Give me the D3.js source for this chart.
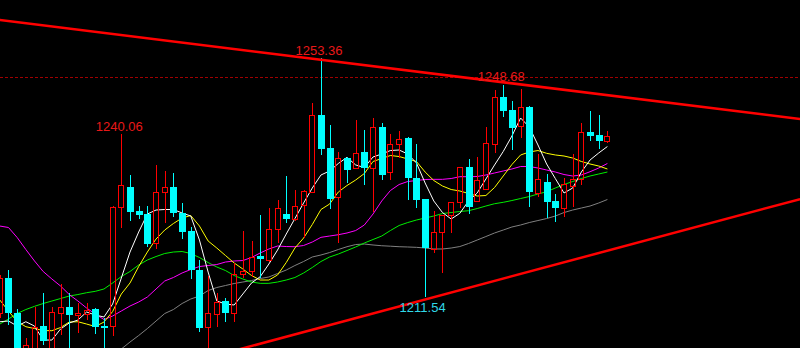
<!DOCTYPE html>
<html>
<head>
<meta charset="utf-8">
<script src="https://d3js.org/d3.v7.min.js"></script>
<style>
html, body { margin: 0; padding: 0; background: #000; overflow: hidden; }
svg { display: block; background: #000; }
</style>
</head>
<body>
<svg id="chart" width="800" height="348"></svg>
<script>
// daily candles
var opens = [1208.74,1214.86,1208.79,1199.64,1201.91,1206.46,1201.91,1208.74,1209.79,1208.39,
	1208.56,1209.44,1206.46,1206.46,1227.29,1230.79,1226.59,1226.06,1220.99,1229.91,
	1230.79,1226.32,1223.09,1216.35,1206.23,1208.51,1210.84,1208.68,1215.56,1216.17,
	1218.71,1218.01,1223.38,1226.06,1225.24,1227.58,1229.96,1243.39,1237.61,1229.09,
	1235.91,1234.06,1236.91,1234.06,1241.23,1233.36,1238.26,1239.31,1232.41,1228.63,
	1219.94,1222.86,1225.89,1228.11,1234.23,1228.34,1230.38,1238.31,1246.48,1244.26,
	1241.46,1244.73,1229.79,1231.61,1228.34,1227.06,1230.96,1232.18,1240.41,1239.83,
	1238.89];
var highs = [1215.39,1216.26,1209.43,1204.36,1209.79,1212.24,1209.79,1213.81,1212.24,1210.49,
	1210.49,1209.61,1207.86,1227.46,1240.06,1232.89,1227.46,1227.46,1234.64,1233.59,
	1233.24,1227.99,1223.79,1218.01,1215.21,1212.24,1211.36,1217.49,1223.09,1221.34,
	1225.89,1227.16,1228.51,1232.71,1230.26,1230.26,1245.43,1253.36,1241.64,1236.96,
	1236.04,1242.51,1240.76,1242.81,1242.04,1240.06,1240.59,1239.48,1238.31,1228.69,
	1226.59,1225.89,1228.21,1234.34,1235.63,1236.09,1241.34,1247.76,1248.68,1245.84,
	1247.88,1244.96,1236.56,1233.06,1229.56,1232.31,1236.56,1241.93,1244.09,1243.39,
	1240.59];
var lows = [1207.86,1206.64,1200.51,1198.41,1200.86,1203.13,1201.21,1204.89,1201.91,1205.24,
	1207.51,1205.06,1201.91,1204.71,1223.61,1224.89,1225.19,1220.29,1219.94,1224.49,
	1225.54,1221.77,1214.69,1205.46,1201.39,1206.34,1207.21,1207.21,1214.86,1215.04,
	1214.86,1217.71,1220.99,1224.49,1224.89,1221.81,1229.91,1236.39,1226.99,1221.04,
	1231.43,1233.93,1231.14,1226.46,1232.01,1232.01,1235.81,1228.51,1227.06,1211.54,
	1219.18,1215.79,1222.68,1227.06,1226.06,1228.16,1230.26,1236.79,1243.09,1237.26,
	1239.31,1227.34,1229.09,1225.31,1224.71,1225.59,1227.34,1231.14,1238.89,1237.38,
	1238.54];
var closes = [1214.86,1208.74,1201.91,1203.13,1206.29,1203.84,1208.91,1209.79,1208.39,1208.74,
	1209.26,1206.34,1206.11,1227.29,1231.14,1226.46,1225.97,1220.81,1229.91,1230.79,
	1226.29,1222.96,1216.26,1206.16,1208.74,1210.71,1208.79,1215.56,1216.09,1218.62,
	1218.13,1223.38,1227.11,1225.24,1227.46,1230.09,1243.33,1237.49,1228.74,1235.81,
	1233.76,1236.68,1234.06,1241.23,1232.89,1238.26,1239.13,1232.31,1228.51,1220.06,
	1222.86,1225.89,1228.11,1234.34,1227.34,1232.01,1238.54,1246.48,1244.14,1241.16,
	1244.73,1229.96,1232.13,1228.21,1227.06,1231.31,1232.18,1240.36,1239.76,1238.89,
	1239.71];

// moving averages as drawn on the chart
var ma5 = [1207.21,1207.34,1206.46,1207.21,1206.46,1204.01,1204.01,1205.94,1206.99,1207.51,
	1208.91,1208.39,1208.04,1210.31,1214.86,1219.41,1222.91,1226.06,1226.76,1226.85,
	1226.85,1226.24,1225.71,1221.51,1215.91,1210.84,1210.31,1210.14,1212.06,1213.99,
	1215.09,1217.31,1219.76,1222.56,1225.27,1227.99,1230.61,1232.89,1233.59,1234.90,
	1235.98,1234.64,1234.20,1236.04,1236.56,1237.17,1237.26,1236.56,1234.99,1231.49,
	1228.34,1226.32,1225.19,1226.18,1228.34,1229.74,1232.19,1234.64,1237.00,1239.71,
	1242.86,1241.29,1238.14,1234.81,1232.27,1229.74,1230.61,1233.41,1235.51,1236.74,
	1237.87];
var ma10 = [1211.01,1209.09,1207.25,1206.34,1206.02,1205.67,1205.64,1206.20,1207.16,1207.21,
	1206.81,1206.37,1207.16,1209.00,1212.06,1213.99,1216.87,1219.41,1221.69,1223.26,
	1224.40,1225.36,1225.80,1223.96,1221.34,1220.11,1218.80,1217.49,1216.44,1215.30,
	1214.51,1214.51,1215.39,1217.57,1220.11,1221.86,1224.22,1226.85,1227.81,1229.91,
	1231.05,1232.01,1233.15,1235.25,1235.77,1236.30,1236.12,1235.69,1235.25,1233.41,
	1231.92,1230.96,1230.35,1230.09,1229.65,1229.21,1229.30,1230.70,1232.71,1234.72,
	1236.39,1236.91,1237.17,1236.68,1236.39,1236.21,1235.86,1235.25,1234.81,1234.46,
	1233.94];
var ma20 = [1223.96,1223.70,1221.95,1219.85,1217.84,1216.00,1214.69,1213.46,1211.97,1210.84,
	1209.61,1208.56,1207.60,1208.21,1209.09,1209.96,1210.66,1211.54,1212.94,1214.34,
	1214.95,1215.74,1216.35,1216.87,1217.05,1217.22,1217.66,1217.84,1217.92,1218.45,
	1219.24,1219.94,1220.46,1220.37,1220.34,1220.55,1221.16,1221.98,1222.21,1222.44,
	1222.74,1223.17,1224.14,1226.06,1228.34,1230.17,1231.22,1231.75,1231.92,1232.10,
	1232.13,1232.13,1232.27,1232.59,1232.59,1232.62,1232.89,1233.24,1233.59,1233.94,
	1234.37,1234.37,1234.11,1233.76,1233.41,1232.97,1232.71,1232.89,1233.46,1234.11,
	1234.90];
var ma30 = [1206.81,1207.69,1208.65,1209.35,1209.91,1210.40,1210.84,1211.27,1211.71,1211.97,
	1212.29,1212.53,1212.94,1213.99,1215.12,1216.00,1217.14,1218.01,1218.62,1219.15,
	1219.41,1219.50,1219.15,1218.45,1217.57,1216.79,1216.17,1215.30,1214.69,1214.16,
	1213.93,1213.93,1214.16,1214.51,1214.95,1215.74,1216.70,1217.75,1218.54,1219.06,
	1219.67,1220.29,1220.99,1221.60,1222.21,1223.17,1224.05,1224.57,1225.01,1225.36,
	1225.71,1226.15,1226.32,1226.50,1226.64,1227.02,1227.46,1227.86,1228.11,1228.42,
	1228.77,1229.12,1229.56,1229.96,1230.61,1231.22,1231.75,1232.27,1232.71,1233.06,
	1233.41];
var ma60 = [null,null,null,null,null,null,null,null,null,null,
	null,null,null,1201.21,1202.44,1203.66,1204.80,1206.02,1207.34,1208.65,
	1209.35,1210.40,1211.19,1211.71,1212.67,1213.20,1213.55,1213.90,1214.16,1214.42,
	1214.77,1215.04,1215.65,1216.26,1217.05,1217.75,1218.54,1218.89,1219.32,1219.85,
	1220.34,1220.72,1220.81,1220.64,1220.51,1220.43,1220.34,1220.29,1220.23,1220.11,
	1219.94,1219.94,1220.11,1220.37,1220.90,1221.51,1222.12,1222.74,1223.26,1223.79,
	1224.14,1224.57,1224.92,1225.27,1225.71,1226.32,1226.76,1227.11,1227.46,1227.99,
	1228.60];

// trend lines as [bar index, price]
var trendUpper = [[0, 1260.00], [92.2, 1242.69]];
var trendLower = [[26.5, 1201.95], [92.2, 1228.67]];
var levelPrice = 1250.00;
var markHighs = [14, 37, 58];
var markLows = [49];

var W = 800, H = 348;
var svg = d3.select("#chart");

var x = d3.scaleLinear().domain([0, 70]).range([-0.2, 607.4]);
var y = d3.scaleLinear().domain([1211.54, 1253.36]).range([297, 58]);

var UP = "#ff0000", DOWN = "#00ffff";

svg.append("rect").attr("width", W).attr("height", H).attr("fill", "#000");

// level line
svg.append("line")
	.attr("x1", 0).attr("x2", W)
	.attr("y1", Math.round(y(levelPrice)) + 0.5).attr("y2", Math.round(y(levelPrice)) + 0.5)
	.attr("stroke", "#a00000").attr("stroke-width", 1)
	.attr("stroke-dasharray", "3,2");

// moving averages
var maList = [
	{v: ma60, c: "#808080"},
	{v: ma30, c: "#00ee00"},
	{v: ma20, c: "#ff00ff"},
	{v: ma10, c: "#ffff00"},
	{v: ma5, c: "#ffffff"}
];
var line = d3.line()
	.defined(function (d) { return d != null; })
	.x(function (d, i) { return x(i); })
	.y(function (d) { return y(d); });
maList.forEach(function (m) {
	svg.append("path").attr("d", line(m.v))
		.attr("fill", "none").attr("stroke", m.c).attr("stroke-width", 1);
});

// candles
var bars = opens.map(function (o, i) {
	return {i: i, o: o, h: highs[i], l: lows[i], c: closes[i]};
});
var g = svg.append("g").attr("shape-rendering", "crispEdges");
bars.forEach(function (d) {
	var px = Math.round(x(d.i));
	var up = d.c >= d.o;
	var top = Math.round(y(Math.max(d.o, d.c)));
	var bot = Math.round(y(Math.min(d.o, d.c)));
	var yh = Math.round(y(d.h)), yl = Math.round(y(d.l));
	if (up) {
		if (yh < top) g.append("line").attr("x1", px + 0.5).attr("x2", px + 0.5)
			.attr("y1", yh).attr("y2", top).attr("stroke", UP);
		if (yl > bot) g.append("line").attr("x1", px + 0.5).attr("x2", px + 0.5)
			.attr("y1", bot).attr("y2", yl).attr("stroke", UP);
		g.append("rect").attr("x", px - 2.5).attr("y", top + 0.5)
			.attr("width", 5).attr("height", Math.max(1, bot - top))
			.attr("fill", "none").attr("stroke", UP).attr("stroke-width", 1);
	} else {
		g.append("line").attr("x1", px + 0.5).attr("x2", px + 0.5)
			.attr("y1", yh).attr("y2", yl).attr("stroke", DOWN);
		g.append("rect").attr("x", px - 3).attr("y", top)
			.attr("width", 7).attr("height", Math.max(1, bot - top))
			.attr("fill", DOWN);
	}
});

// trend lines
[trendUpper, trendLower].forEach(function (t) {
	svg.append("line")
		.attr("x1", x(t[0][0])).attr("y1", y(t[0][1]))
		.attr("x2", x(t[1][0])).attr("y2", y(t[1][1]))
		.attr("stroke", "#ff0000").attr("stroke-width", 2.5);
});

// high / low labels
markHighs.forEach(function (i) {
	svg.append("text").attr("x", x(i) - 2).attr("y", y(highs[i]) - 3.5)
		.attr("text-anchor", "middle").attr("fill", "#e81818")
		.attr("font-family", "Liberation Sans, Arial, sans-serif").attr("font-size", 13)
		.text(highs[i].toFixed(2));
});
markLows.forEach(function (i) {
	svg.append("text").attr("x", x(i) - 2.5).attr("y", y(lows[i]) + 14.5)
		.attr("text-anchor", "middle").attr("fill", "#30d8e8")
		.attr("font-family", "Liberation Sans, Arial, sans-serif").attr("font-size", 13)
		.text(lows[i].toFixed(2));
});
</script>
</body>
</html>
